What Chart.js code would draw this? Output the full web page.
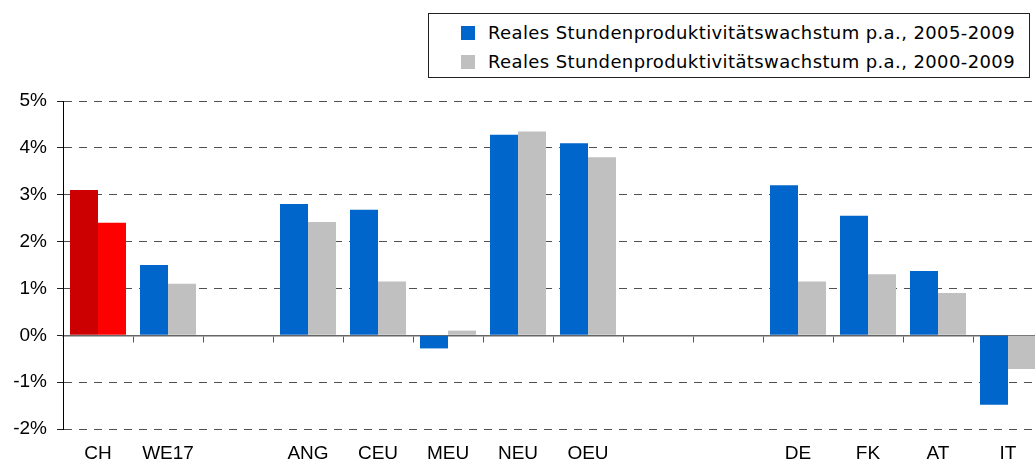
<!DOCTYPE html>
<html>
<head>
<meta charset="utf-8">
<script src="https://cdn.jsdelivr.net/npm/chart.js@4"></script>
<style>
  body { margin: 0; overflow: hidden; background: #fff; }
  #wrap { position: relative; width: 1050px; height: 467px; }
  #legend {
    position: absolute; left: 428px; top: 13px; width: 600px; height: 63px;
    border: 1px solid #222; background: #fff;
    font-family: "DejaVu Sans", sans-serif; font-size: 18px; color: #000;
  }
  .item { position: absolute; left: 32px; height: 20px; line-height: 20px; white-space: nowrap; }
  .item span.box { position: absolute; left: 0; top: 3px; width: 14px; height: 14px; }
  .item span.txt { position: absolute; left: 27px; top: 0; }
</style>
</head>
<body>
<div id="wrap">
  <canvas id="chart" width="1050" height="467"></canvas>
  <div id="legend"></div>
</div>
<script>
const categories = ["CH", "WE17", "", "ANG", "CEU", "MEU", "NEU", "OEU", "", "", "DE", "FK", "AT", "IT"];
const growth0509 = [3.1, 1.5, null, 2.8, 2.68, -0.28, 4.28, 4.1, null, null, 3.2, 2.55, 1.37, -1.48];
const growth0009 = [2.4, 1.1, null, 2.42, 1.15, 0.1, 4.35, 3.8, null, null, 1.15, 1.3, 0.9, -0.72];
const seriesNames = [
  "Reales Stundenproduktivitätswachstum p.a., 2005-2009",
  "Reales Stundenproduktivitätswachstum p.a., 2000-2009"
];
const seriesColors = ["#0066CC", "#C0C0C0"];
const highlightColors = ["#CC0000", "#FF0000"]; // CH
const yTicks = [-2, -1, 0, 1, 2, 3, 4, 5];

const labelFont = { family: "Arial, 'Liberation Sans', sans-serif", size: 19 };

function colorsFor(s) {
  return categories.map(c => c === "CH" ? highlightColors[s] : seriesColors[s]);
}

const chart = new Chart(document.getElementById("chart"), {
  type: "bar",
  data: {
    labels: categories,
    datasets: [
      { label: seriesNames[0], data: growth0509, backgroundColor: colorsFor(0) },
      { label: seriesNames[1], data: growth0009, backgroundColor: colorsFor(1) }
    ]
  },
  options: {
    responsive: false,
    animation: false,
    layout: { padding: { top: 101, right: 7, left: 0, bottom: 0 } },
    datasets: { bar: { categoryPercentage: 0.8, barPercentage: 1 } },
    plugins: { legend: { display: false }, tooltip: { enabled: false } },
    scales: {
      x: {
        position: "bottom",
        grid: { display: false, drawTicks: false },
        border: { display: false },
        ticks: { color: "#000", font: labelFont, padding: 13, autoSkip: false, maxRotation: 0 },
        afterFit: s => { s.height = 38; }
      },
      x2: {
        type: "category",
        position: { y: 0 },
        grid: { drawOnChartArea: false, drawTicks: true, offset: true, tickLength: 6, color: "#555", tickColor: "#555" },
        border: { display: true, color: "#666", width: 1.5 },
        ticks: { display: false }
      },
      y: {
        min: -2,
        max: 5,
        afterBuildTicks: s => { s.ticks = yTicks.map(v => ({ value: v })); },
        ticks: {
          color: "#000",
          font: labelFont,
          padding: 10,
          callback: v => v + "%"
        },
        grid: {
          color: c => c.tick && c.tick.value === 0 ? "rgba(0,0,0,0)" : "#505050",
          lineWidth: 1,
          tickLength: 6,
          tickColor: "#222",
          tickBorderDash: []
        },
        border: {
          display: true,
          color: "#000",
          width: 1,
          dash: c => (c.type === "tick" && c.tick && c.tick.value !== 0) ? [8, 7] : []
        },
        afterFit: s => { s.width = 63; }
      }
    }
  }
});

// legend box, text fitted to the reference width
const legend = document.getElementById("legend");
const textWidth = 527;
seriesNames.forEach((name, i) => {
  const item = document.createElement("div");
  item.className = "item";
  item.style.top = (9 + i * 29) + "px";
  item.innerHTML = '<span class="box" style="background:' + seriesColors[i] + '"></span><span class="txt">' + name + "</span>";
  legend.appendChild(item);
  const txt = item.querySelector(".txt");
  const w = txt.getBoundingClientRect().width;
  txt.style.letterSpacing = ((textWidth - w) / name.length) + "px";
});
</script>
</body>
</html>
